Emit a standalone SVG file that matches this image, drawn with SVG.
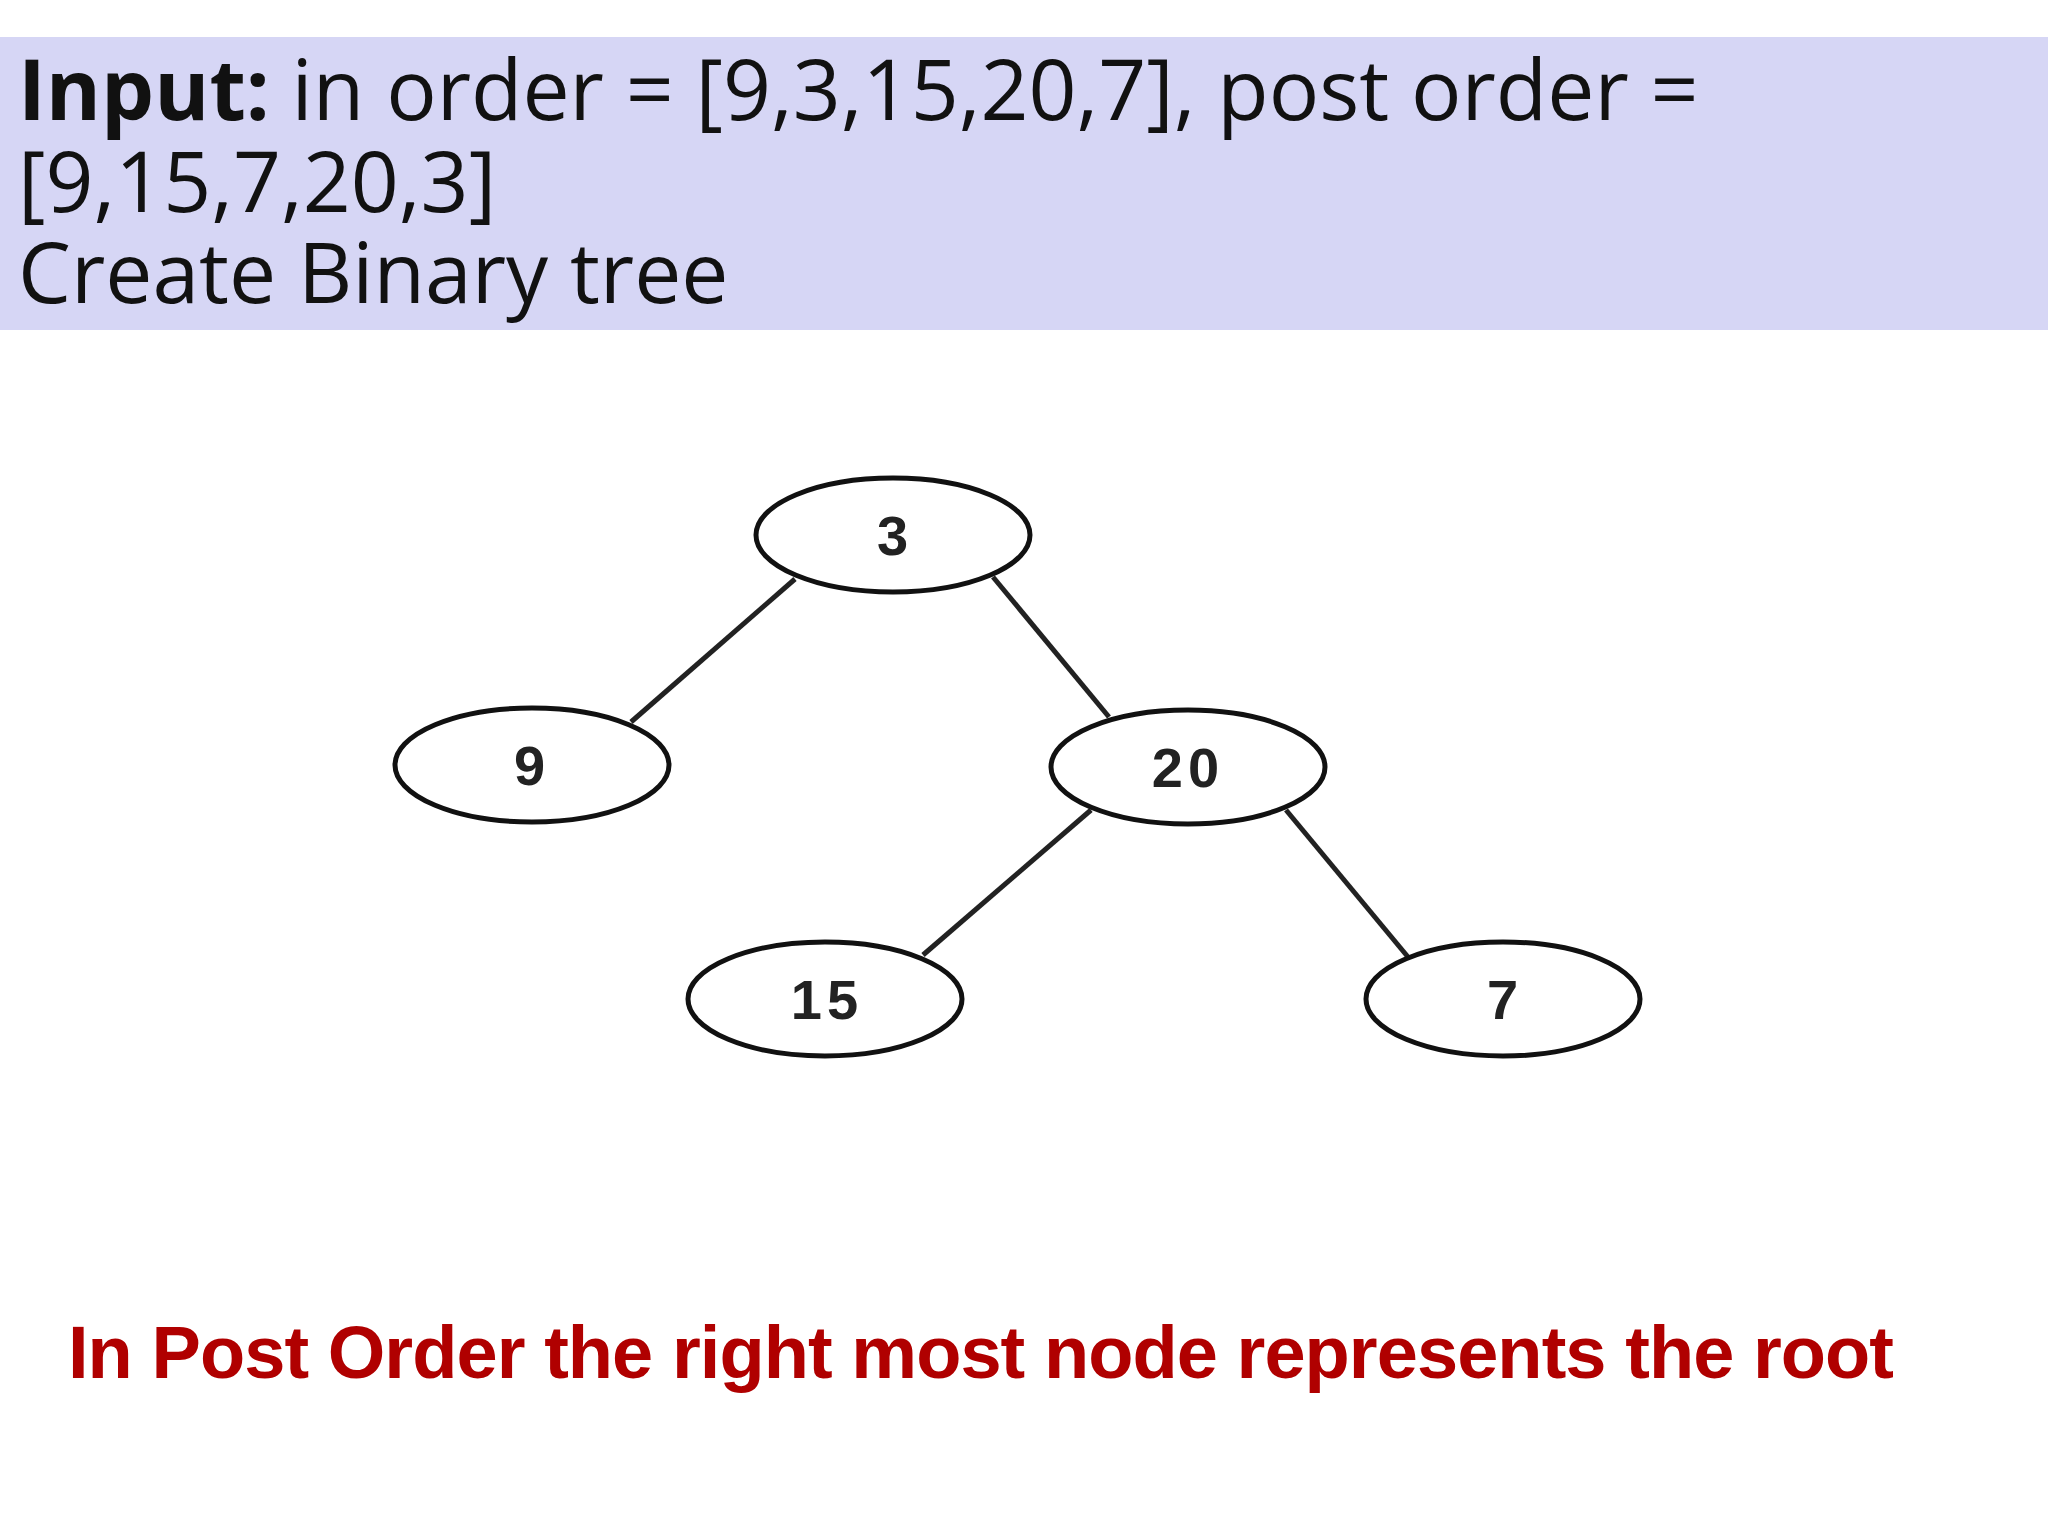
<svg xmlns="http://www.w3.org/2000/svg" width="2048" height="1536" viewBox="0 0 2048 1536">
<style>
.hd{font-family:"Open Sans","Noto Sans",sans-serif;font-size:84px;fill:#111}
.n ellipse{fill:#fff;stroke:#111;stroke-width:5}
.n text{font-family:"Liberation Sans",Arial,sans-serif;font-weight:bold;font-size:56px;fill:#222;text-anchor:middle;letter-spacing:5px}
.e line{stroke:#222;stroke-width:5}
</style>
<rect width="2048" height="1536" fill="#fff"/>
<rect x="0" y="37" width="2048" height="293" fill="#d6d6f5"/>
<text class="hd" x="18" y="120"><tspan font-weight="bold">Input:</tspan> in order = [9,3,15,20,7], post order =</text>
<text class="hd" x="18" y="212">[9,15,7,20,3]</text>
<text class="hd" x="18" y="303">Create Binary tree</text>
<g class="e">
<line x1="795" y1="579" x2="631" y2="722"/>
<line x1="993" y1="577" x2="1109" y2="717"/>
<line x1="1091" y1="810" x2="923" y2="955"/>
<line x1="1286" y1="810" x2="1408" y2="957"/>
</g>
<g id="n3" class="n"><ellipse cx="893" cy="535" rx="137" ry="57"/><text x="895" y="555">3</text></g>
<g id="n9" class="n"><ellipse cx="532" cy="765" rx="137" ry="57"/><text x="532" y="785">9</text></g>
<g id="n20" class="n"><ellipse cx="1188" cy="767" rx="137" ry="57"/><text x="1188" y="787">20</text></g>
<g id="n15" class="n"><ellipse cx="825" cy="999" rx="137" ry="57"/><text x="827" y="1019">15</text></g>
<g id="n7" class="n"><ellipse cx="1503" cy="999" rx="137" ry="57"/><text x="1505" y="1019">7</text></g>
<text x="68" y="1378" textLength="1826" font-family="Liberation Sans,Arial,sans-serif" font-weight="bold" font-size="74" fill="#b00000">In Post Order the right most node represents the root</text>
</svg>
